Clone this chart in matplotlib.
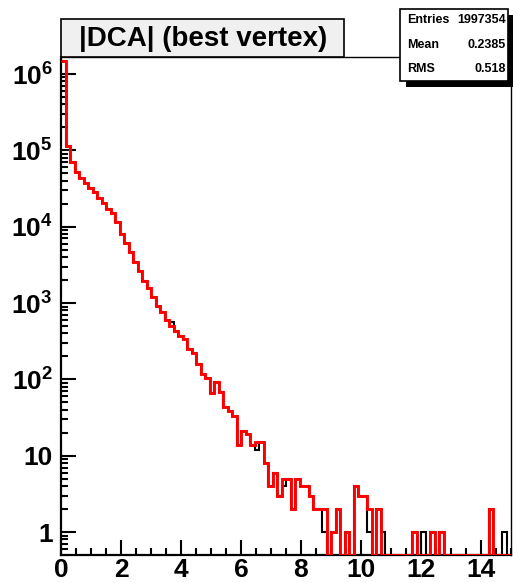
import matplotlib
matplotlib.use("Agg")
import matplotlib.pyplot as plt
import numpy as np
from matplotlib.patches import Rectangle
from matplotlib.ticker import LogLocator, MultipleLocator, NullFormatter

plt.rcParams['font.family'] = ['Liberation Sans', 'DejaVu Sans']
plt.rcParams['font.weight'] = 'bold'
plt.rcParams['mathtext.fontset'] = 'custom'
plt.rcParams['mathtext.rm'] = 'Liberation Sans:bold'
plt.rcParams['mathtext.it'] = 'Liberation Sans:bold'
plt.rcParams['mathtext.bf'] = 'Liberation Sans:bold'

# |DCA| histogram, 100 bins between 0 and 15
x_lo, x_hi, nbins = 0.0, 15.0, 100

# red histogram (drawn on top)
dca_red = [
    1500000, 115000, 69700, 52500, 43800, 37700, 32400, 28700, 24000, 20200,
    17100, 15000, 11500, 8020, 6110, 4620, 3470, 2630, 1940, 1590,
    1210, 914, 762, 599, 500, 430, 370, 335, 248, 224,
    159, 117, 103, 67, 91, 69, 44, 38, 33, 14,
    21, 19, 14, 15, 15, 8, 4, 6, 3, 5,
    5, 2, 5, 4, 4, 3, 2, 2, 2, 0,
    1, 2, 0, 1, 0, 4, 3, 3, 2, 0,
    2, 0, 0, 0, 0, 0, 0, 0, 1, 0,
    0, 0, 1, 0, 1, 0, 0, 0, 0, 0,
    0, 0, 0, 0, 0, 2, 0, 0, 0, 0,
]

# black histogram (mostly hidden under the red one)
dca_black = [
    1500000, 115000, 69700, 52500, 43800, 37700, 32400, 28700, 24000, 20200,
    17100, 15000, 11500, 8020, 6110, 4620, 3470, 2630, 1940, 1590,
    1210, 914, 762, 599, 560, 430, 370, 335, 248, 224,
    159, 117, 103, 67, 91, 69, 44, 38, 33, 14,
    21, 19, 14, 12, 15, 8, 4, 6, 3, 4,
    5, 2, 5, 4, 4, 3, 2, 2, 1, 0,
    1, 2, 0, 1, 0, 4, 3, 3, 1, 0,
    2, 1, 0, 0, 0, 0, 0, 0, 1, 0,
    1, 0, 1, 0, 1, 0, 0, 0, 0, 0,
    0, 0, 0, 0, 0, 2, 0, 0, 1, 0,
]

x_ticks = [0, 2, 4, 6, 8, 10, 12, 14]
y_ticks = [1, 10, 1e2, 1e3, 1e4, 1e5, 1e6]
y_ticklabels = ['1', '10', r'$10^{2}$', r'$10^{3}$', r'$10^{4}$', r'$10^{5}$', r'$10^{6}$']

title = '|DCA| (best vertex)'
stat_names = ['Entries', 'Mean', 'RMS']
stat_values = ['1997354', '0.2385', '0.518']

W, H = 513, 583
ymin, ymax = 0.5, 1.67e6


def fx(px):
    return px / W


def fy(py):
    return 1 - py / H


fig = plt.figure(figsize=(W / 100, H / 100), dpi=100)
ax = fig.add_axes([fx(61), fy(555), fx(511) - fx(61), fy(57) - fy(555)])

edges = np.linspace(x_lo, x_hi, nbins + 1)
# empty bins sit on the bottom of the frame, as ROOT draws them
black = np.asarray(dca_black, float)
red = np.asarray(dca_red, float)
ax.stairs(np.where(black > 0, black, ymin), edges, baseline=None,
          color='black', lw=1.5, zorder=3)
ax.stairs(np.where(red > 0, red, ymin), edges, baseline=None,
          color='#ff0000', lw=2.1, zorder=4)

ax.set_yscale('log')
ax.set_xlim(x_lo, x_hi)
ax.set_ylim(ymin, ymax)

ax.set_xticks(x_ticks)
ax.set_xticklabels([str(t) for t in x_ticks])
ax.xaxis.set_minor_locator(MultipleLocator(0.5))
ax.set_yticks(y_ticks)
ax.set_yticklabels(y_ticklabels)
ax.yaxis.set_minor_locator(LogLocator(base=10, subs=np.arange(2, 10), numticks=20))
ax.yaxis.set_minor_formatter(NullFormatter())

ax.tick_params(which='both', direction='in', width=1.5, top=False, right=False,
               labelsize=19)
ax.tick_params(which='major', length=10.5)
ax.tick_params(which='minor', length=5.2)
ax.tick_params(axis='x', pad=2)
ax.tick_params(axis='y', pad=6)

for side in ['left', 'bottom']:
    ax.spines[side].set_linewidth(1.6)
for side in ['top', 'right']:
    ax.spines[side].set_linewidth(1.0)

# title box
fig.add_artist(Rectangle((fx(61), fy(57)), fx(344) - fx(61), fy(19) - fy(57),
                         transform=fig.transFigure, facecolor='#f0f0f0',
                         edgecolor='black', lw=1.2, zorder=5))
fig.text(fx(203), fy(39), title, ha='center', va='center', fontsize=20,
         fontweight='bold', zorder=6)

# stats box with shadow
fig.add_artist(Rectangle((fx(406), fy(87)), fx(520) - fx(406), fy(15) - fy(87),
                         transform=fig.transFigure, facecolor='black',
                         edgecolor='none', zorder=5))
fig.add_artist(Rectangle((fx(400), fy(81)), fx(508) - fx(400), fy(9) - fy(81),
                         transform=fig.transFigure, facecolor='white',
                         edgecolor='black', lw=1.2, zorder=6))
for i, (name, val) in enumerate(zip(stat_names, stat_values)):
    ypx = 20 + i * 24.6
    fig.text(fx(407.5), fy(ypx), name, ha='left', va='center', fontsize=9,
             fontweight='bold', zorder=7)
    fig.text(fx(506), fy(ypx), val, ha='right', va='center', fontsize=9,
             fontweight='bold', zorder=7)

fig.savefig('out.png', dpi=100)
